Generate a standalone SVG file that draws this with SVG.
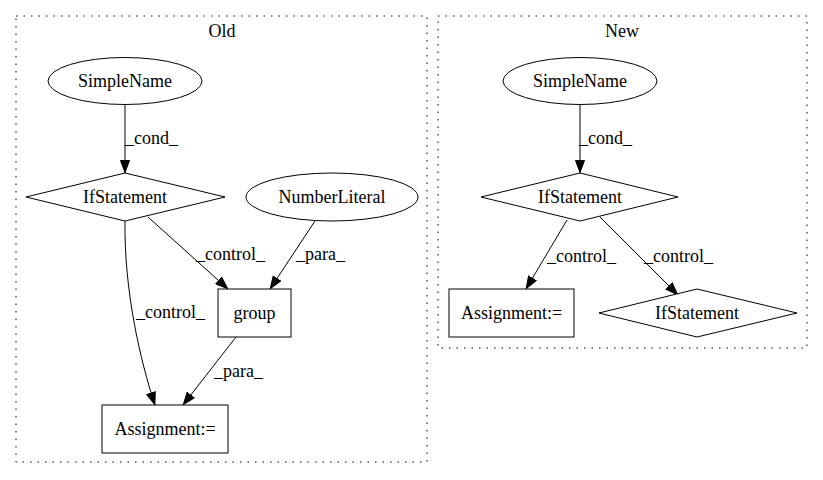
<svg xmlns="http://www.w3.org/2000/svg" width="823" height="480" viewBox="0 0 823 480">
<style>
text{font-family:"Liberation Serif","Times New Roman",serif;font-size:18px;fill:#000}
.c{text-anchor:middle}
.n{fill:#fff;stroke:#000;stroke-width:1}
.cl{fill:none;stroke:#000;stroke-width:1;stroke-dasharray:1.5,6}
.e{fill:none;stroke:#000;stroke-width:1}
</style>
<defs>
<marker id="ah" viewBox="0 0 13 10" refX="13" refY="5" markerWidth="13" markerHeight="10" markerUnits="userSpaceOnUse" orient="auto">
<path d="M0.5,0.5 L12.5,5 L0.5,9.5 z" fill="#000" stroke="#000"/>
</marker>
</defs>
<rect width="823" height="480" fill="#fff"/>
<g id="cluster_old">
<rect class="cl" x="16" y="16" width="411" height="446"/>
<text class="c" x="222" y="37">Old</text>
</g>
<g id="cluster_new">
<rect class="cl" x="438" y="16" width="369" height="332"/>
<text class="c" x="622" y="37">New</text>
</g>
<g id="connectors">
<path class="e" d="M125,105 L125,173" marker-end="url(#ah)"/>
<text x="125" y="144">_cond_</text>
<path class="e" d="M148,217 L228,289" marker-end="url(#ah)"/>
<text x="196" y="260">_control_</text>
<path class="e" d="M315,221 L270,289" marker-end="url(#ah)"/>
<text x="296" y="260">_para_</text>
<path class="e" d="M125,221 C124,290 140,360 155,405" marker-end="url(#ah)"/>
<text x="136" y="318">_control_</text>
<path class="e" d="M236,337 L183,405" marker-end="url(#ah)"/>
<text x="214" y="377">_para_</text>
<path class="e" d="M580,105 L580,173" marker-end="url(#ah)"/>
<text x="579" y="144">_cond_</text>
<path class="e" d="M567,220 L526,289" marker-end="url(#ah)"/>
<text x="547" y="262">_control_</text>
<path class="e" d="M600,217 L678,295" marker-end="url(#ah)"/>
<text x="644" y="262">_control_</text>
</g>
<g id="old_simplename">
<ellipse class="n" cx="125" cy="81" rx="77" ry="23.5"/>
<text class="c" x="125" y="87">SimpleName</text>
</g>
<g id="old_ifstatement">
<polygon class="n" points="125,173 225,197 125,221 26,197"/>
<text class="c" x="125" y="203">IfStatement</text>
</g>
<g id="old_numberliteral">
<ellipse class="n" cx="332" cy="197" rx="86" ry="24"/>
<text class="c" x="332" y="203">NumberLiteral</text>
</g>
<g id="old_group">
<rect class="n" x="218" y="289" width="73" height="48"/>
<text class="c" x="254.5" y="319">group</text>
</g>
<g id="old_assignment">
<rect class="n" x="102" y="405" width="126" height="48"/>
<text class="c" x="165" y="435">Assignment:=</text>
</g>
<g id="new_simplename">
<ellipse class="n" cx="580" cy="81" rx="77" ry="23.5"/>
<text class="c" x="580" y="87">SimpleName</text>
</g>
<g id="new_ifstatement">
<polygon class="n" points="580,173 678,197 580,221 481,197"/>
<text class="c" x="580" y="203">IfStatement</text>
</g>
<g id="new_assignment">
<rect class="n" x="449" y="289" width="125" height="48"/>
<text class="c" x="511.5" y="319">Assignment:=</text>
</g>
<g id="new_ifstatement2">
<polygon class="n" points="697,289 797,313 697,337 599,313"/>
<text class="c" x="697" y="319">IfStatement</text>
</g>
</svg>
